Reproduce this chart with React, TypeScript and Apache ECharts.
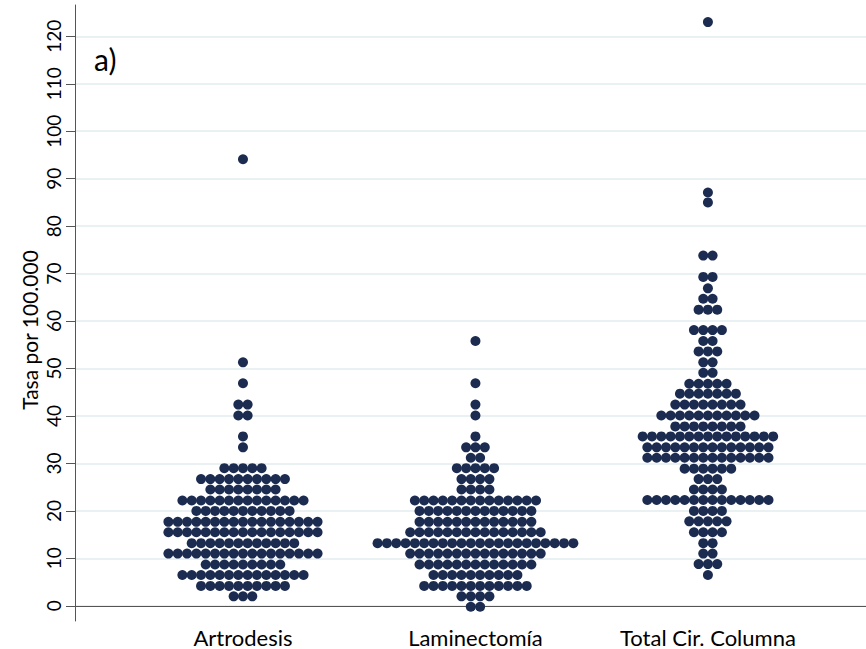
import React, { useEffect, useRef } from "react";
import * as echarts from "echarts";

const categories = ["Artrodesis", "Laminectomía", "Total Cir. Columna"];
const yTicks = [0, 10, 20, 30, 40, 50, 60, 70, 80, 90, 100, 110, 120];
const yAxisTitle = "Tasa por 100.000";
const panelLabel = "a)";

// Beeswarm rows: value of each row and number of dots in it
const artroRowValues = [94.1, 51.3, 46.9, 42.4, 40.1, 35.7, 33.4, 29.0, 26.7, 24.5, 22.2, 20.0, 17.7, 15.5, 13.2, 11.0, 8.7, 6.5, 4.2, 2.0];
const artroRowCounts = [1, 1, 1, 2, 2, 1, 1, 5, 10, 8, 14, 11, 17, 17, 12, 17, 9, 14, 10, 3];

const laminRowValues = [55.8, 46.9, 42.4, 40.1, 35.7, 33.4, 31.2, 29.0, 26.7, 24.5, 22.2, 20.0, 17.7, 15.5, 13.2, 11.0, 8.7, 6.5, 4.2, 2.0, -0.2];
const laminRowCounts = [1, 1, 1, 1, 1, 3, 2, 5, 4, 4, 14, 13, 13, 15, 22, 15, 13, 10, 12, 4, 2];

const totalRowValues = [123.0, 87.1, 85.0, 73.8, 69.3, 66.9, 64.7, 62.4, 58.1, 55.8, 53.6, 51.3, 49.1, 46.8, 44.7, 42.4, 40.1, 37.8, 35.7, 33.4, 31.2, 28.9, 26.7, 24.5, 22.3, 20.0, 17.8, 15.5, 13.2, 11.0, 8.8, 6.5];
const totalRowCounts = [1, 1, 1, 2, 2, 1, 2, 3, 4, 2, 3, 2, 2, 5, 7, 8, 11, 8, 15, 14, 14, 6, 3, 4, 14, 4, 5, 4, 2, 2, 3, 1];

const DOT_STEP = 0.0401; // horizontal distance between neighbouring dots, in x-axis units

function swarm(groupIndex: number, values: number[], counts: number[]) {
  const pts: number[][] = [];
  values.forEach((v, r) => {
    const n = counts[r];
    for (let i = 0; i < n; i++) {
      pts.push([groupIndex + 1 + (i - (n - 1) / 2) * DOT_STEP, v]);
    }
  });
  return pts;
}

const FONT = "Lato";
const DOT_COLOR = "#1c2b50";

export default function App() {
  const ref = useRef<HTMLDivElement>(null);
  useEffect(() => {
    if (!ref.current) return;
    const chart = echarts.init(ref.current, undefined, { renderer: "svg" });
    const groups = [
      swarm(0, artroRowValues, artroRowCounts),
      swarm(1, laminRowValues, laminRowCounts),
      swarm(2, totalRowValues, totalRowCounts),
    ];
    chart.setOption({
      animation: false,
      backgroundColor: "#ffffff",
      title: {
        text: panelLabel,
        left: 89,
        top: 39,
        textStyle: { fontFamily: FONT, fontSize: 30, fontWeight: "normal", color: "#000" },
      },
      graphic: [
        {
          type: "text",
          x: 29,
          y: 330,
          rotation: Math.PI / 2,
          style: {
            text: yAxisTitle,
            fontFamily: FONT,
            fontSize: 21,
            fill: "#000",
            align: "center",
            verticalAlign: "middle",
          },
        },
      ],
      grid: { left: 75, right: 0, top: 5, bottom: 28, containLabel: false },
      xAxis: {
        type: "value",
        min: 0.2774,
        max: 3.68,
        axisLine: { show: true, lineStyle: { color: "#555", width: 1 } },
        axisTick: { show: false },
        splitLine: { show: false },
        axisLabel: {
          customValues: [1, 2, 3],
          formatter: (v: number) => categories[Math.round(v) - 1] ?? "",
          fontFamily: FONT,
          fontSize: 22,
          color: "#000",
          margin: 5,
        },
      },
      yAxis: {
        type: "value",
        min: -3.2,
        max: 126.6,
        axisLine: { show: true, lineStyle: { color: "#555", width: 1 } },
        axisTick: { show: true, customValues: yTicks, length: 9, lineStyle: { color: "#555" } },
        axisLabel: {
          customValues: yTicks,
          rotate: 90,
          fontFamily: FONT,
          fontSize: 19,
          color: "#000",
          margin: 12,
        },
        splitLine: { show: true, lineStyle: { color: "#eaf1f3", width: 2 } },
      },
      series: groups.map((data, i) => ({
        type: "scatter",
        name: categories[i],
        data,
        symbol: "circle",
        symbolSize: 10,
        itemStyle: { color: DOT_COLOR, opacity: 1 },
      })),
    });
    return () => chart.dispose();
  }, []);
  return <div ref={ref} style={{ position: "fixed", left: 0, top: 0, width: 866, height: 649 }} />;
}
